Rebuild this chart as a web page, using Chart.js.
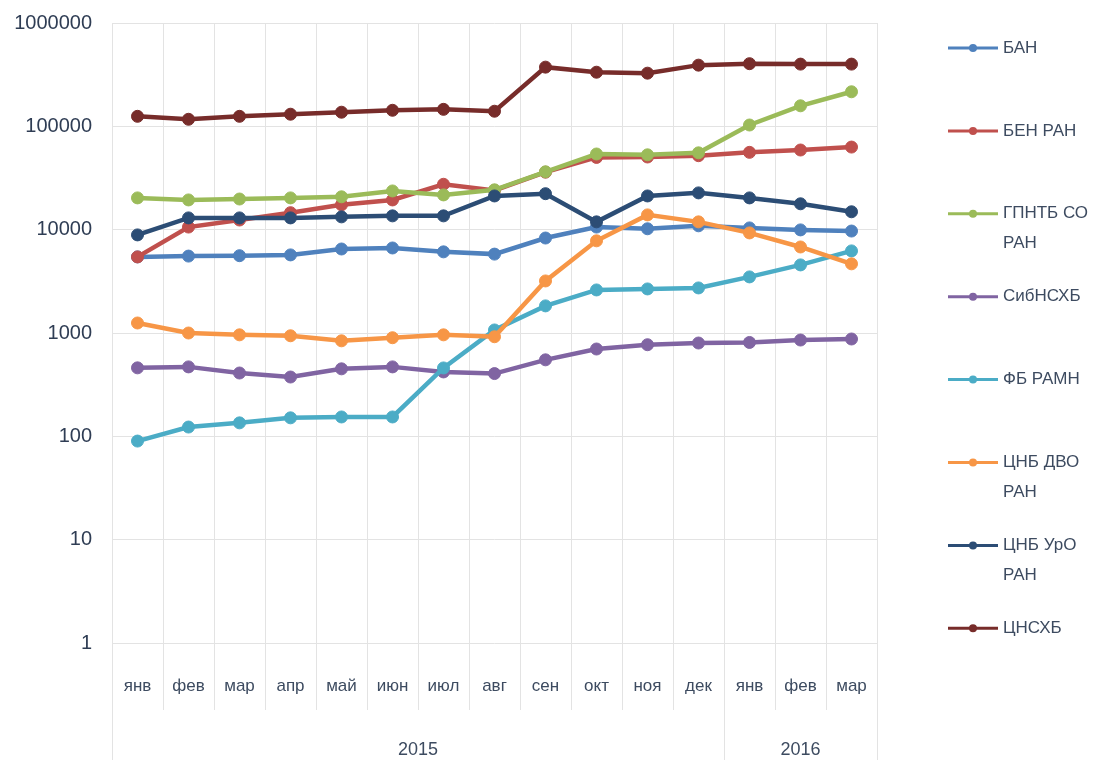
<!DOCTYPE html>
<html>
<head>
<meta charset="utf-8">
<script src="https://cdn.jsdelivr.net/npm/chart.js@4/dist/chart.umd.min.js"></script>
<style>
  html, body { margin: 0; padding: 0; background: #ffffff; overflow: hidden; }
  #wrap { width: 1096px; height: 760px; position: relative; }
</style>
</head>
<body>
<div id="wrap"><canvas id="c" width="1096" height="760"></canvas></div>
<script>
// ---- data ----
const months = ['янв','фев','мар','апр','май','июн','июл','авг','сен','окт','ноя','дек','янв','фев','мар'];
const years = ['2015', '2016'];
const yearSpans = [12, 3];
const yTicks = [1, 10, 100, 1000, 10000, 100000, 1000000];

const seriesNames = ['БАН', 'БЕН РАН', 'ГПНТБ СО РАН', 'СибНСХБ', 'ФБ РАМН', 'ЦНБ ДВО РАН', 'ЦНБ УрО РАН', 'ЦНСХБ'];
const seriesColors = ['#4f81bd', '#c0504d', '#9bbb59', '#8064a2', '#4bacc6', '#f79646', '#2c4d75', '#772c2a'];

const BAN      = [5450, 5550, 5600, 5700, 6500, 6650, 6100, 5800, 8300, 10600, 10200, 10900, 10400, 9950, 9700];
const BEN_RAN  = [5450, 10600, 12400, 14600, 17400, 19400, 27500, 24000, 36000, 50000, 50500, 52000, 56000, 59000, 63000];
const GPNTB    = [20300, 19400, 19800, 20300, 20800, 23700, 21700, 24300, 36300, 54000, 53000, 55400, 103000, 158000, 216000];
const SibNSHB  = [460, 470, 410, 375, 450, 470, 420, 405, 550, 700, 770, 800, 810, 855, 875];
const FB_RAMN  = [90, 123, 135, 151, 154, 154, 459, 1070, 1830, 2610, 2670, 2730, 3490, 4560, 6230];
const CNB_DVO  = [1250, 1000, 960, 940, 840, 900, 960, 920, 3190, 7800, 13900, 11900, 9300, 6800, 4670];
const CNB_URO  = [8900, 13000, 13000, 13000, 13300, 13600, 13600, 21200, 22300, 11900, 21200, 22700, 20300, 17800, 14900];
const CNSHB    = [125000, 117000, 125000, 131000, 137000, 143000, 146000, 140000, 374000, 334000, 327000, 391000, 404000, 400000, 400000];

const seriesValues = [BAN, BEN_RAN, GPNTB, SibNSHB, FB_RAMN, CNB_DVO, CNB_URO, CNSHB];

// year tick positions (category boundaries and centres)
const yearTickVals = [0];
const yearCenters = {};
const yearBoundaries = new Set([0]);
let acc = 0;
yearSpans.forEach((s, i) => {
  yearCenters[acc + s / 2] = years[i];
  yearTickVals.push(acc + s / 2);
  acc += s;
  yearTickVals.push(acc);
  yearBoundaries.add(acc);
});

const GRID = '#e3e3e3';
const TEXT = '#3d4b60';
const FONT = '"Liberation Sans", Arial, sans-serif';

const datasets = seriesNames.map((name, i) => ({
  label: name,
  data: seriesValues[i],
  borderColor: seriesColors[i],
  backgroundColor: seriesColors[i],
  pointBackgroundColor: seriesColors[i],
  pointBorderColor: seriesColors[i],
  borderWidth: 4.5,
  pointRadius: 6,
  pointBorderWidth: 1,
  tension: 0,
  fill: false,
  order: seriesNames.length - i,
  xAxisID: 'x',
  yAxisID: 'y'
}));

// custom right-side legend (line + marker + wrapped text)
const sideLegend = {
  id: 'sideLegend',
  afterDraw(chart) {
    const ctx = chart.ctx;
    const ca = chart.chartArea;
    const x0 = ca.right + 71, x1 = ca.right + 121, xm = (x0 + x1) / 2;
    const tx = ca.right + 126;
    const maxW = chart.width - tx - 2;
    ctx.save();
    ctx.font = '17px ' + FONT;
    ctx.textBaseline = 'middle';
    ctx.textAlign = 'left';
    seriesNames.forEach((name, i) => {
      const y = 48 + i * 82.9;
      ctx.strokeStyle = seriesColors[i];
      ctx.lineWidth = 3;
      ctx.beginPath(); ctx.moveTo(x0, y); ctx.lineTo(x1, y); ctx.stroke();
      ctx.fillStyle = seriesColors[i];
      ctx.beginPath(); ctx.arc(xm, y, 4, 0, Math.PI * 2); ctx.fill();
      const words = name.split(' ');
      const lines = [];
      let cur = '';
      words.forEach(w => {
        const t = cur ? cur + ' ' + w : w;
        if (ctx.measureText(t).width > maxW && cur) { lines.push(cur); cur = w; }
        else cur = t;
      });
      if (cur) lines.push(cur);
      ctx.fillStyle = TEXT;
      lines.forEach((l, k) => ctx.fillText(l, tx, y + k * 30));
    });
    ctx.restore();
  }
};

new Chart(document.getElementById('c'), {
  type: 'line',
  data: { labels: months, datasets },
  options: {
    responsive: false,
    animation: false,
    devicePixelRatio: 1,
    layout: { padding: { left: 0, right: 219, top: 23, bottom: 0 } },
    plugins: {
      legend: { display: false },
      tooltip: { enabled: false },
      title: { display: false }
    },
    scales: {
      x: {
        type: 'category',
        position: 'bottom',
        offset: true,
        weight: 0,
        grid: { offset: true, color: GRID, lineWidth: 1, tickLength: 67, tickColor: GRID },
        border: { display: false },
        ticks: {
          color: TEXT,
          font: { family: FONT, size: 17 },
          padding: -34,
          maxRotation: 0,
          autoSkip: false
        },
        afterFit: (s) => { s.height = 53; }
      },
      x2: {
        type: 'linear',
        position: 'bottom',
        axis: 'x',
        weight: 1,
        min: 0,
        max: months.length,
        afterBuildTicks: (scale) => { scale.ticks = yearTickVals.map(v => ({ value: v })); },
        grid: {
          drawOnChartArea: false,
          tickLength: 64,
          color: (c) => (c.tick && yearBoundaries.has(c.tick.value)) ? GRID : 'rgba(0,0,0,0)',
          lineWidth: 1
        },
        border: { display: false },
        ticks: {
          color: TEXT,
          font: { family: FONT, size: 18 },
          padding: -21,
          maxRotation: 0,
          autoSkip: false,
          callback: (v) => yearCenters[v] || ''
        },
        afterFit: (s) => { s.height = 64; }
      },
      y: {
        type: 'logarithmic',
        min: 1,
        max: 1000000,
        afterBuildTicks: (scale) => { scale.ticks = yTicks.map(v => ({ value: v })); },
        grid: { color: GRID, lineWidth: 1, drawTicks: false },
        border: { display: false },
        ticks: {
          color: '#2f3d54',
          font: { family: FONT, size: 20 },
          padding: 20,
          callback: (v) => String(v)
        },
        afterFit: (s) => { s.width = 112; s.paddingTop = 10; s.paddingBottom = 10; }
      }
    }
  },
  plugins: [sideLegend]
});
</script>
</body>
</html>
